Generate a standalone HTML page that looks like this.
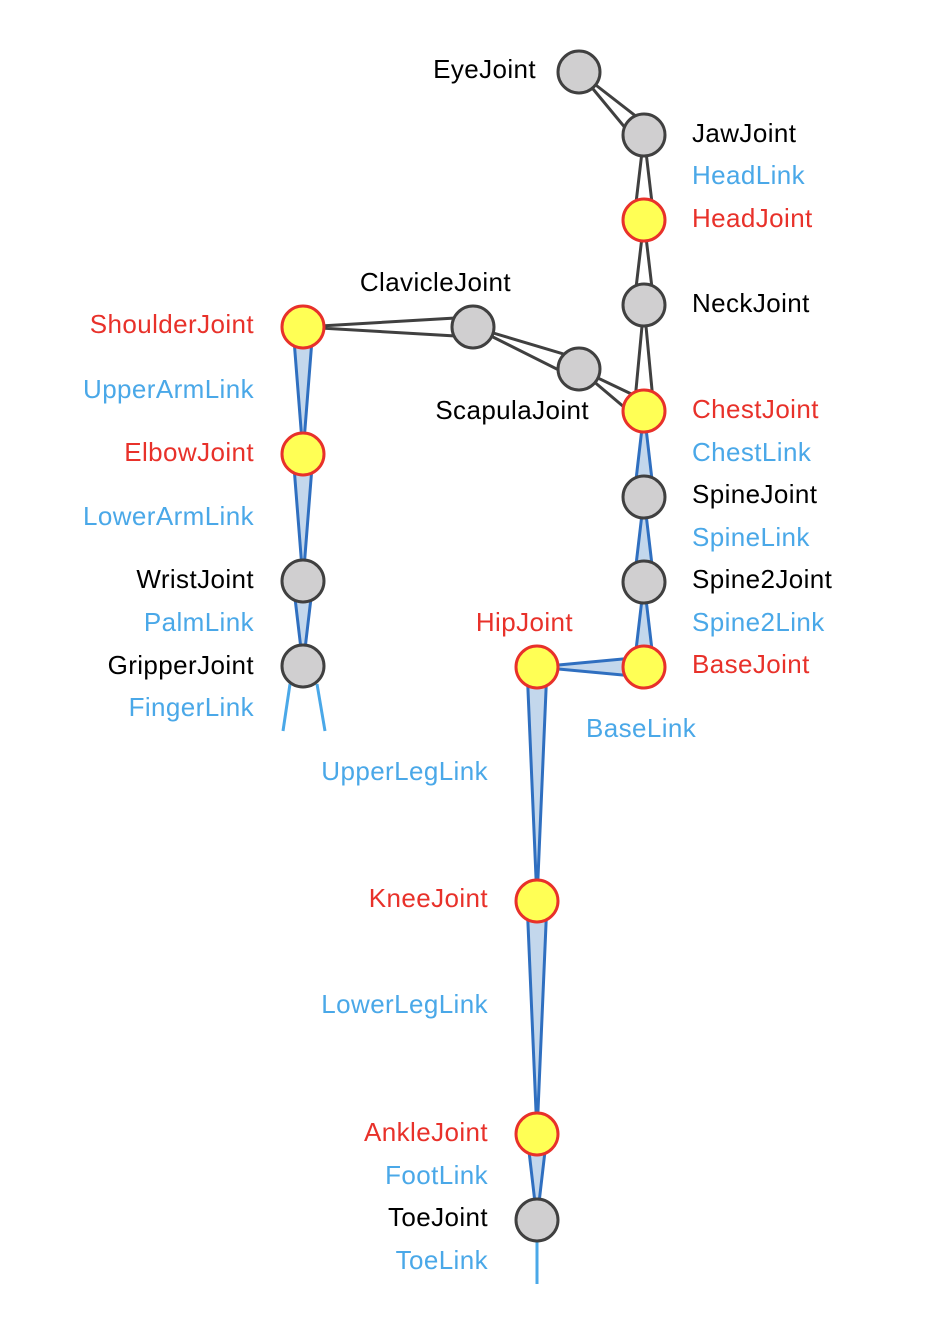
<!DOCTYPE html>
<html><head><meta charset="utf-8"><style>
html,body{margin:0;padding:0;background:#fff}
svg text{font-family:"Liberation Sans",sans-serif;font-size:26px;letter-spacing:0.4px}
.r{fill:#e8312a}.b{fill:#4aa8e8}.k{fill:#000}
</style></head><body>
<svg id="s" width="942" height="1322" xmlns="http://www.w3.org/2000/svg">
<g id="links"></g>
<line x1="290" y1="684" x2="283" y2="731" stroke="#4aa8e8" stroke-width="3"/>
<line x1="317" y1="684" x2="325" y2="731" stroke="#4aa8e8" stroke-width="3"/>
<line x1="537" y1="1241" x2="537" y2="1284" stroke="#4aa8e8" stroke-width="3"/>
<g id="nodes"></g>
<text x="536" y="78" text-anchor="end" class="k">EyeJoint</text>
<text x="692" y="142" class="k">JawJoint</text>
<text x="692" y="184" class="b">HeadLink</text>
<text x="692" y="227" class="r">HeadJoint</text>
<text x="692" y="312" class="k">NeckJoint</text>
<text x="692" y="418" class="r">ChestJoint</text>
<text x="692" y="461" class="b">ChestLink</text>
<text x="692" y="503" class="k">SpineJoint</text>
<text x="692" y="546" class="b">SpineLink</text>
<text x="692" y="588" class="k">Spine2Joint</text>
<text x="692" y="631" class="b">Spine2Link</text>
<text x="692" y="673" class="r">BaseJoint</text>
<text x="586" y="737" class="b">BaseLink</text>
<text x="511" y="291" text-anchor="end" class="k">ClavicleJoint</text>
<text x="589" y="419" text-anchor="end" class="k">ScapulaJoint</text>
<text x="573" y="631" text-anchor="end" class="r">HipJoint</text>
<text x="254" y="333" text-anchor="end" class="r">ShoulderJoint</text>
<text x="254" y="398" text-anchor="end" class="b">UpperArmLink</text>
<text x="254" y="461" text-anchor="end" class="r">ElbowJoint</text>
<text x="254" y="525" text-anchor="end" class="b">LowerArmLink</text>
<text x="254" y="588" text-anchor="end" class="k">WristJoint</text>
<text x="254" y="631" text-anchor="end" class="b">PalmLink</text>
<text x="254" y="674" text-anchor="end" class="k">GripperJoint</text>
<text x="254" y="716" text-anchor="end" class="b">FingerLink</text>
<text x="488" y="780" text-anchor="end" class="b">UpperLegLink</text>
<text x="488" y="907" text-anchor="end" class="r">KneeJoint</text>
<text x="488" y="1013" text-anchor="end" class="b">LowerLegLink</text>
<text x="488" y="1141" text-anchor="end" class="r">AnkleJoint</text>
<text x="488" y="1184" text-anchor="end" class="b">FootLink</text>
<text x="488" y="1226" text-anchor="end" class="k">ToeJoint</text>
<text x="488" y="1269" text-anchor="end" class="b">ToeLink</text>
</svg>
<script>
var N={eye:[579,72,0],jaw:[644,135,0],head:[644,220,1],neck:[644,305,0],chest:[644,411,1],spine:[644,497,0],spine2:[644,582,0],base:[644,667,1],hip:[537,667,1],knee:[537,901,1],ankle:[537,1134,1],toe:[537,1220,0],clav:[473,327,0],scap:[579,369,0],sh:[303,327,1],el:[303,454,1],wr:[303,581,0],gr:[303,666,0]};
var L=[["jaw","eye",0],["head","jaw",0],["neck","head",0],["chest","neck",0],["chest","scap",0],["scap","clav",0],["clav","sh",0],["spine","chest",1],["spine2","spine",1],["base","spine2",1],["base","hip",1],["hip","knee",1],["knee","ankle",1],["ankle","toe",1],["sh","el",1],["el","wr",1],["wr","gr",1]];
var ns="http://www.w3.org/2000/svg",lg=document.getElementById("links"),ng=document.getElementById("nodes");
L.forEach(function(l){var p=N[l[0]],c=N[l[1]],dx=c[0]-p[0],dy=c[1]-p[1],d=Math.hypot(dx,dy),nx=-dy/d*10,ny=dx/d*10;
var e=document.createElementNS(ns,"polygon");e.setAttribute("points",(p[0]+nx)+","+(p[1]+ny)+" "+(p[0]-nx)+","+(p[1]-ny)+" "+c[0]+","+c[1]);
e.setAttribute("fill",l[2]?"#c3d7ec":"none");e.setAttribute("stroke",l[2]?"#2f6fc0":"#404040");e.setAttribute("stroke-width","3");e.setAttribute("stroke-linejoin","miter");lg.appendChild(e);});
for(var k in N){var n=N[k],e=document.createElementNS(ns,"circle");e.setAttribute("cx",n[0]);e.setAttribute("cy",n[1]);e.setAttribute("r",21);
e.setAttribute("fill",n[2]?"#ffff55":"#d0cfd0");e.setAttribute("stroke",n[2]?"#e8312a":"#404040");e.setAttribute("stroke-width","3");ng.appendChild(e);}
</script>
</body></html>
